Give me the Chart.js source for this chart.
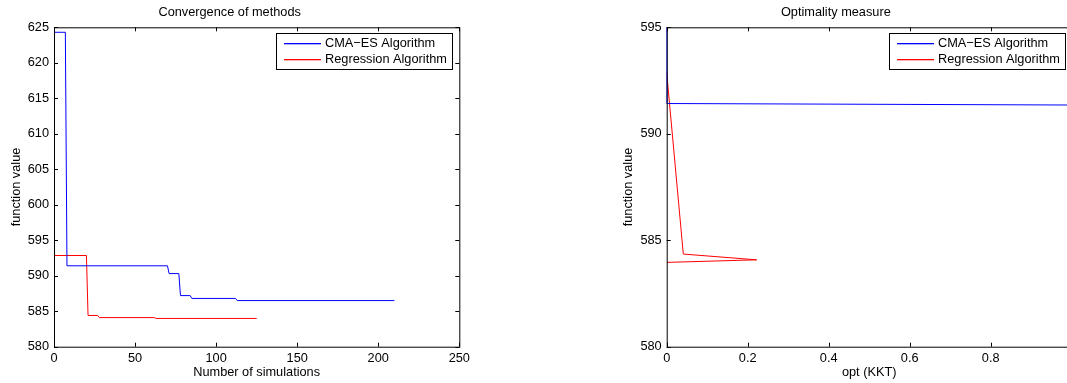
<!DOCTYPE html>
<html>
<head>
<meta charset="utf-8">
<script src="https://cdn.jsdelivr.net/npm/chart.js@4/dist/chart.umd.min.js"></script>
<style>
    html, body { margin: 0; padding: 0; background: #fff; }
    body { width: 1067px; height: 383px; overflow: hidden; position: relative; }
    .box { position: absolute; top: 0; height: 383px; }
    #left-box { left: 0; width: 470px; }
    #right-box { left: 600px; width: 480px; }
</style>
</head>
<body>
<div class="box" id="left-box"><canvas id="convergence-chart"></canvas></div>
<div class="box" id="right-box"><canvas id="optimality-chart"></canvas></div>
<script>
// Convergence of methods
const cmaSims = [0, 7, 8, 70, 71, 77, 78, 84, 85, 112, 113, 210];
const cmaValues = [624.3, 624.3, 591.4, 591.4, 590.3, 590.3, 587.2, 587.2, 586.8, 586.8, 586.5, 586.5];
const regSims = [0, 20, 21, 27, 28, 62, 63, 125];
const regValues = [592.85, 592.85, 584.4, 584.4, 584.1, 584.1, 583.98, 583.98];

// Optimality measure
const cmaOpt = [0, 0, 1];
const cmaOptValues = [624.3, 591.42, 591.35];
const regOpt = [0, 0.041, 0.222, 0];
const regOptValues = [592.87, 584.35, 584.08, 583.96];

const seriesLabels = ["CMA\u2212ES Algorithm", "Regression Algorithm"];
const seriesColors = ["rgb(0, 0, 255)", "rgb(255, 0, 0)"];
const FONT = "'Liberation Sans', Arial, Helvetica, sans-serif";
const FONT_SIZE = 12.75;

Chart.defaults.font.family = FONT;
Chart.defaults.font.size = FONT_SIZE;
Chart.defaults.color = "#000";

const toPoints = (xs, ys) => xs.map((x, i) => ({ x: x, y: ys[i] }));

// box + inward ticks, MATLAB style
const boxPlugin = {
    id: "matlabBox",
    afterDatasetsDraw(chart) {
        const { ctx, chartArea: a, scales } = chart;
        ctx.save();
        ctx.strokeStyle = "#000";
        ctx.lineWidth = 1;
        ctx.strokeRect(a.left + 0.5, a.top + 0.5, a.right - a.left, a.bottom - a.top);
        ctx.beginPath();
        scales.x.ticks.forEach((t) => {
            const px = Math.round(scales.x.getPixelForValue(t.value)) + 0.5;
            ctx.moveTo(px, a.bottom); ctx.lineTo(px, a.bottom - 4);
            ctx.moveTo(px, a.top); ctx.lineTo(px, a.top + 4);
        });
        scales.y.ticks.forEach((t) => {
            const py = Math.round(scales.y.getPixelForValue(t.value)) + 0.5;
            ctx.moveTo(a.left, py); ctx.lineTo(a.left + 4, py);
            ctx.moveTo(a.right, py); ctx.lineTo(a.right - 4, py);
        });
        ctx.stroke();
        ctx.restore();
    },
    afterDraw(chart) {
        // legend box in the upper right corner
        const { ctx, chartArea: a } = chart;
        const w = 176, h = 36;
        const left = Math.round(a.right - 7 - w);
        const top = Math.round(a.top + 6);
        ctx.save();
        ctx.fillStyle = "#fff";
        ctx.fillRect(left, top, w, h);
        ctx.strokeStyle = "#000";
        ctx.lineWidth = 1;
        ctx.strokeRect(left + 0.5, top + 0.5, w, h);
        ctx.font = FONT_SIZE + "px " + FONT;
        ctx.textBaseline = "middle";
        seriesLabels.forEach((label, i) => {
            const y = Math.round(top + 10 + i * 15.7);
            ctx.fillStyle = seriesColors[i];
            ctx.fillRect(left + 8, y, 37, 1.3);
            ctx.fillStyle = "#000";
            ctx.fillText(label, left + 49, y + 0.5);
        });
        ctx.restore();
    },
};

function makeChart(id, cfg) {
    const ctx = document.getElementById(id).getContext("2d");
    return new Chart(ctx, {
        type: "line",
        data: {
            datasets: [
                {
                    label: seriesLabels[0],
                    data: cfg.blue,
                    borderColor: seriesColors[0],
                    borderWidth: 1,
                    pointRadius: 0,
                    tension: 0,
                    fill: false,
                },
                {
                    label: seriesLabels[1],
                    data: cfg.red,
                    borderColor: seriesColors[1],
                    borderWidth: 1,
                    pointRadius: 0,
                    tension: 0,
                    fill: false,
                },
            ],
        },
        options: {
            responsive: true,
            maintainAspectRatio: false,
            animation: false,
            layout: { padding: { left: 0, right: cfg.padRight, top: 0, bottom: 0 } },
            plugins: {
                legend: { display: false },
                tooltip: { enabled: false },
                title: {
                    display: true,
                    text: cfg.title,
                    color: "#000",
                    font: { size: FONT_SIZE, weight: "normal" },
                    padding: { top: 5, bottom: 7 },
                },
            },
            scales: {
                x: {
                    type: "linear",
                    min: cfg.xMin,
                    max: cfg.xMax,
                    grid: { display: false, drawTicks: false },
                    border: { display: false },
                    ticks: {
                        stepSize: cfg.xStep,
                        padding: 4,
                        maxRotation: 0,
                        autoSkip: false,
                        callback: (v) => cfg.xFormat(v),
                    },
                    title: {
                        display: true,
                        text: cfg.xTitle,
                        font: { size: FONT_SIZE },
                        padding: { top: 0, bottom: 3 },
                    },
                    afterFit: (scale) => {
                        scale.height = 36.3;
                        scale.paddingLeft = 0;
                        scale.paddingRight = 0;
                    },
                },
                y: {
                    type: "linear",
                    min: cfg.yMin,
                    max: cfg.yMax,
                    grid: { display: false, drawTicks: false },
                    border: { display: false },
                    ticks: { stepSize: 5, padding: 5 },
                    title: {
                        display: true,
                        text: "function value",
                        font: { size: FONT_SIZE },
                        padding: { top: cfg.yTitlePad, bottom: 0 },
                    },
                    afterFit: (scale) => {
                        scale.width = cfg.yWidth;
                        scale.paddingTop = 0;
                        scale.paddingBottom = 0;
                    },
                },
            },
        },
        plugins: [boxPlugin],
    });
}

makeChart("convergence-chart", {
    title: "Convergence of methods",
    blue: toPoints(cmaSims, cmaValues),
    red: toPoints(regSims, regValues),
    xMin: 0, xMax: 250, xStep: 50,
    xFormat: (v) => String(v),
    xTitle: "Number of simulations",
    yMin: 580, yMax: 625,
    yWidth: 54, yTitlePad: 8.5, padRight: 10.7,
});

makeChart("optimality-chart", {
    title: "Optimality measure",
    blue: toPoints(cmaOpt, cmaOptValues),
    red: toPoints(regOpt, regOptValues),
    xMin: 0, xMax: 1, xStep: 0.2,
    xFormat: (v) => (v === 0 || v === 1 ? String(v) : v.toFixed(1)),
    xTitle: "opt (KKT)",
    yMin: 580, yMax: 595,
    yWidth: 66.7, yTitlePad: 20.5, padRight: 8.3,
});
</script>
</body>
</html>
